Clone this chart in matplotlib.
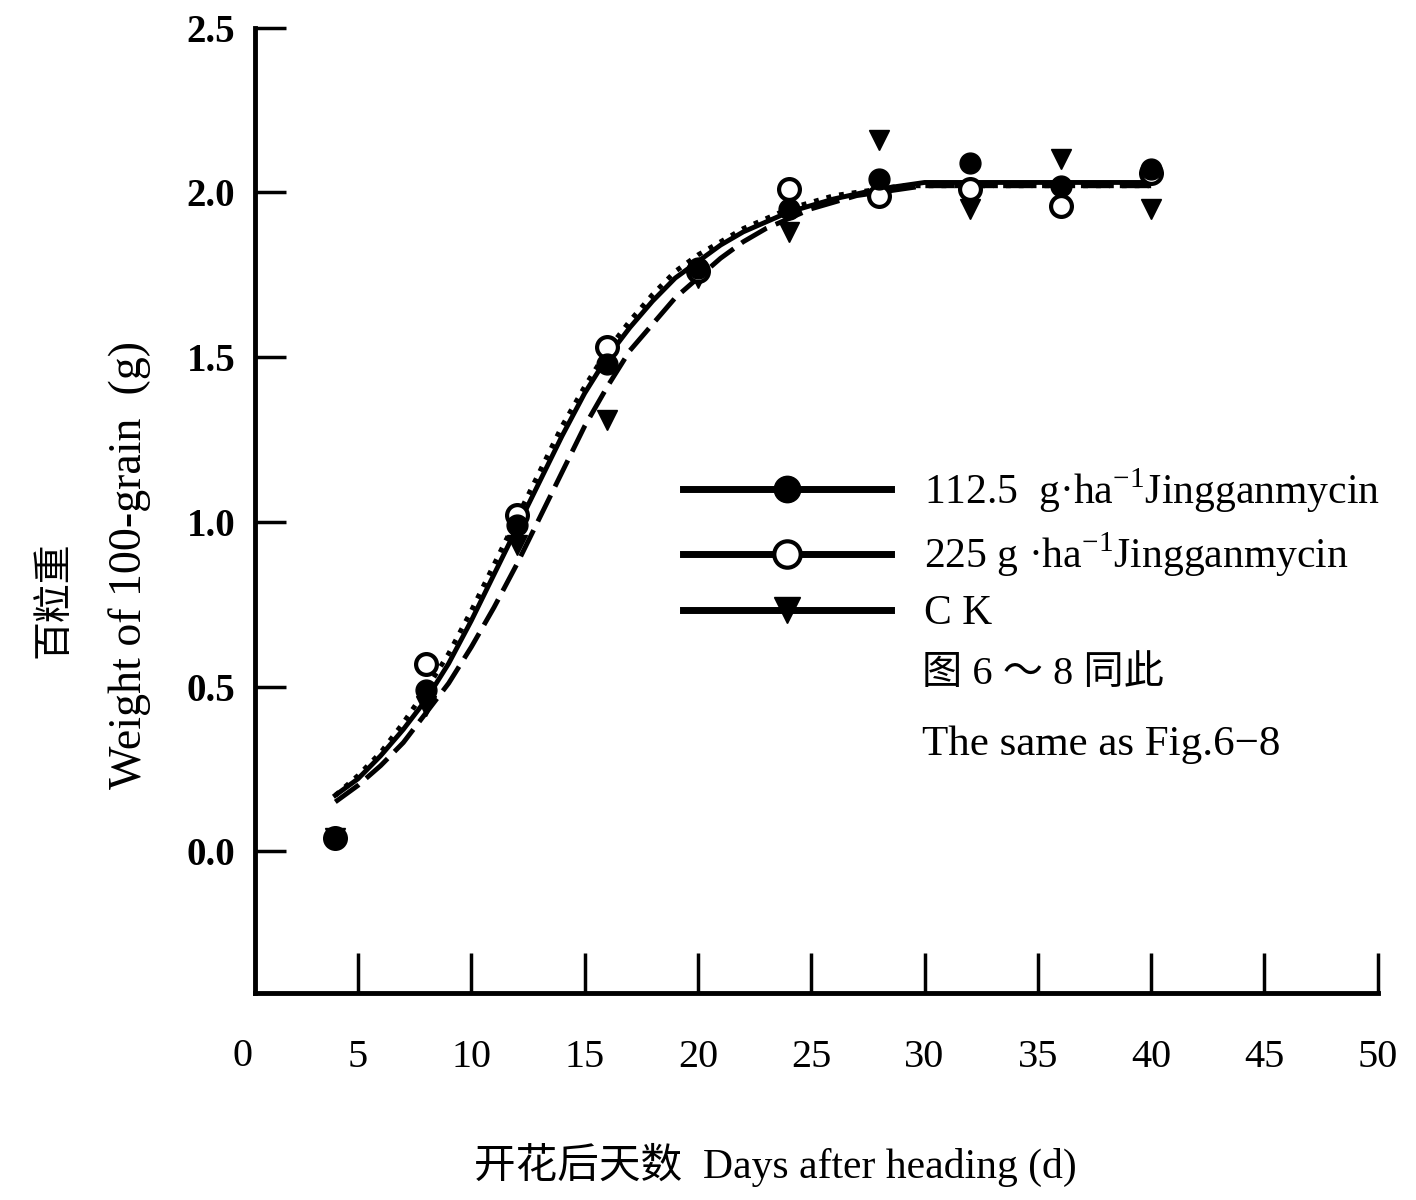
import numpy as np
import matplotlib.pyplot as plt
from matplotlib.lines import Line2D

plt.rcParams['font.family'] = ['Liberation Serif', 'Noto Sans CJK SC', 'DejaVu Sans']
plt.rcParams['mathtext.fontset'] = 'custom'
plt.rcParams['mathtext.rm'] = 'Liberation Serif'

# observed points (days after heading, 100-grain weight g)
days = [4, 8, 12, 16, 20, 24, 28, 32, 36, 40]
w_112 = [0.04, 0.49, 0.99, 1.48, 1.77, 1.95, 2.04, 2.09, 2.02, 2.07]
w_225 = [0.04, 0.57, 1.02, 1.53, 1.76, 2.01, 1.99, 2.01, 1.96, 2.06]
w_ck = [0.04, 0.44, 0.93, 1.31, 1.74, 1.88, 2.16, 1.95, 2.10, 1.95]

# fitted curves
fit_days = [4, 5, 6, 7, 8, 9, 10, 11, 12, 13, 14, 15, 16, 17, 18, 19, 20,
            21, 22, 23, 24, 25, 26, 27, 28, 29, 30, 32, 34, 36, 38, 40]
fit_112 = [0.17, 0.22, 0.29, 0.37, 0.46, 0.57, 0.70, 0.84, 0.98, 1.12, 1.26,
           1.39, 1.50, 1.59, 1.67, 1.74, 1.79, 1.84, 1.88, 1.91, 1.94, 1.96,
           1.98, 1.995, 2.01, 2.02, 2.03, 2.03, 2.03, 2.03, 2.03, 2.03]
fit_225 = [0.17, 0.23, 0.30, 0.39, 0.49, 0.60, 0.73, 0.87, 1.01, 1.15, 1.29,
           1.41, 1.52, 1.61, 1.69, 1.76, 1.81, 1.85, 1.89, 1.92, 1.95, 1.97,
           1.99, 2.00, 2.01, 2.02, 2.02, 2.02, 2.02, 2.02, 2.02, 2.02]
fit_ck = [0.15, 0.20, 0.26, 0.33, 0.42, 0.51, 0.62, 0.74, 0.87, 1.01, 1.15,
          1.29, 1.41, 1.52, 1.60, 1.68, 1.74, 1.80, 1.85, 1.89, 1.92, 1.95,
          1.97, 1.99, 2.00, 2.01, 2.02, 2.02, 2.02, 2.02, 2.02, 2.02]

labels = [r'112.5  g·ha$^{\mathregular{-1}}$Jingganmycin',
          r'225 g ·ha$^{\mathregular{-1}}$Jingganmycin',
          'C K']
xticks = [5, 10, 15, 20, 25, 30, 35, 40, 45, 50]
yticks = [0.0, 0.5, 1.0, 1.5, 2.0, 2.5]

fig = plt.figure(figsize=(14.16, 12), dpi=100)
ax = fig.add_axes([0.180, 0.1725, 0.793, 0.8045])

lw = 3.5
ax.plot(fit_days, fit_112, '-', color='black', lw=lw)
ax.plot(fit_days, fit_225, ':', color='black', lw=lw)
ax.plot(fit_days, fit_ck, '--', color='black', lw=lw, dashes=(6, 2))

# open circles under filled ones, as in the scan
ax.plot(days, w_ck, 'v', color='black', ms=15, ls='none')
ax.plot(days, w_225, 'o', mfc='white', mec='black', mew=3, ms=15, ls='none')
ax.plot(days, w_112, 'o', color='black', ms=15, ls='none')

ax.set_xlim(0.45, 50)
ax.set_ylim(-0.43, 2.5)
ax.spines['top'].set_visible(False)
ax.spines['right'].set_visible(False)
ax.spines['left'].set_linewidth(3.5)
ax.spines['bottom'].set_linewidth(3.5)

ax.set_xticks(xticks)
ax.set_xticklabels([str(t) for t in xticks])
ax.set_yticks(yticks)
ax.set_yticklabels(['%.1f' % t for t in yticks], fontweight='bold')
ax.tick_params(axis='x', direction='in', length=29, width=2.5, labelsize=29, pad=33)
ax.tick_params(axis='y', direction='in', length=22, width=2.5, labelsize=28, pad=14)

# the "0" sits left of the axis start, outside the x range
fig.text(243 / 1416, 1 - 1057 / 1200, '0', fontsize=29, ha='center', va='center')

fig.text(130 / 1416, 1 - 565 / 1200, 'Weight of 100-grain  (g)', fontsize=33,
         rotation=90, ha='center', va='center')
fig.text(55 / 1416, 1 - 600 / 1200, '百粒重', fontsize=28,
         rotation=90, ha='center', va='center')
fig.text(775 / 1416, 1 - 1165 / 1200, '开花后天数  Days after heading (d)',
         fontsize=30, ha='center', va='center')

handles = [
    Line2D([], [], color='black', lw=5, marker='o', ms=19),
    Line2D([], [], color='black', lw=5, marker='o', ms=19, mfc='white', mew=3),
    Line2D([], [], color='black', lw=5, marker='v', ms=19),
]
ax.legend(handles, labels, loc='upper left', bbox_to_anchor=(0.381, 0.546),
          frameon=False, fontsize=30, handlelength=5.0, handletextpad=0.8,
          labelspacing=0.38, borderpad=0, borderaxespad=0)
ax.text(0.594, 0.33, '图 6 ～ 8 同此', transform=ax.transAxes, fontsize=29,
        va='center')
ax.text(0.594, 0.257, 'The same as Fig.6−8', transform=ax.transAxes,
        fontsize=31, va='center')

fig.savefig('out.png', dpi=100)
